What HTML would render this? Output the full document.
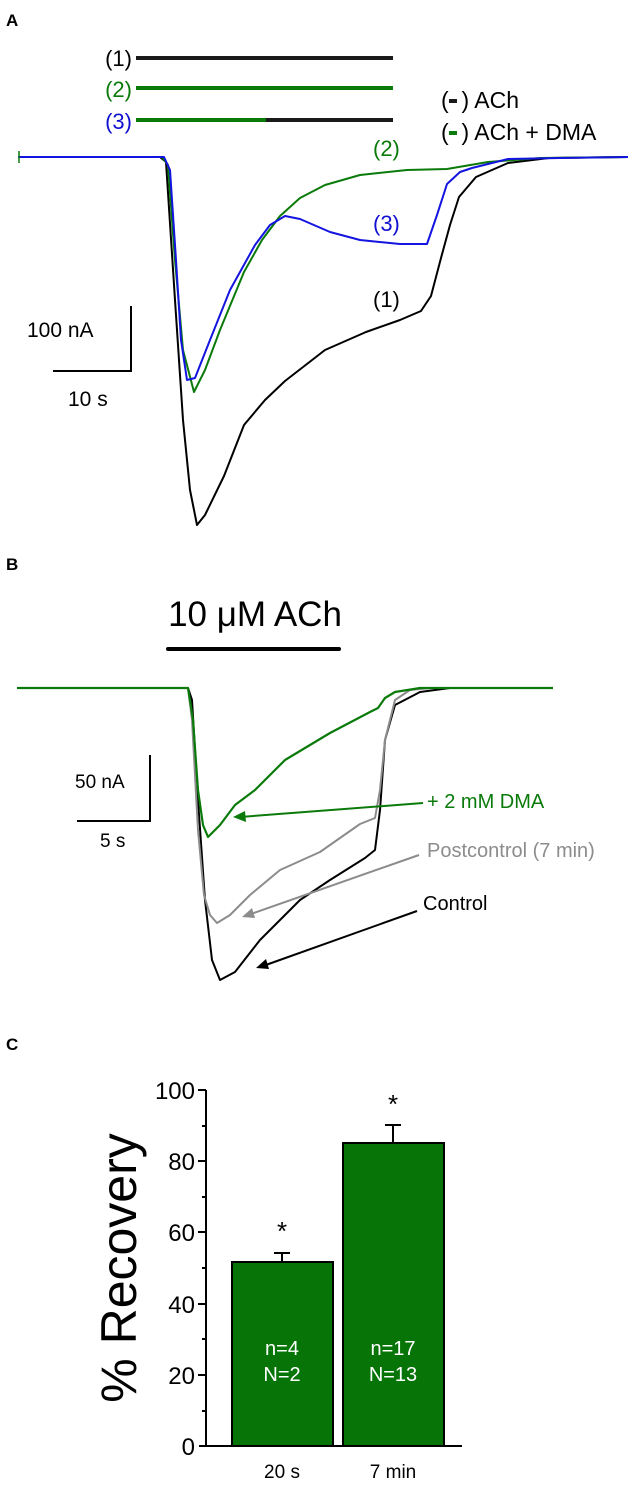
<!DOCTYPE html>
<html><head><meta charset="utf-8"><style>
html,body{margin:0;padding:0;background:#fff}
svg{display:block}
text{font-family:"Liberation Sans",Arial,sans-serif}
path{stroke-linejoin:round}
</style></head><body>
<svg width="634" height="1486" viewBox="0 0 634 1486" xmlns="http://www.w3.org/2000/svg">
<!-- Panel A -->
<text x="6" y="26" font-size="17" font-weight="bold">A</text>
<line x1="136" y1="58" x2="393" y2="58" stroke="#1a1a1a" stroke-width="4"/>
<line x1="136" y1="88" x2="393" y2="88" stroke="#0a7a0a" stroke-width="4"/>
<line x1="136" y1="120" x2="266" y2="120" stroke="#0a7a0a" stroke-width="4"/>
<line x1="266" y1="120" x2="393" y2="120" stroke="#1a1a1a" stroke-width="4"/>
<text x="132" y="66" font-size="22" text-anchor="end" fill="#000">(1)</text>
<text x="132" y="97" font-size="22" text-anchor="end" fill="#0a7a0a">(2)</text>
<text x="132" y="129" font-size="22" text-anchor="end" fill="#1010d0">(3)</text>
<text x="441" y="108" font-size="23">(<tspan fill="#fff">–</tspan>) ACh</text>
<rect x="449" y="99" width="8" height="4" fill="#1a1a1a"/>
<text x="441" y="140" font-size="23">(<tspan fill="#fff">–</tspan>) ACh + DMA</text>
<rect x="449" y="131" width="8" height="4" fill="#0a7a0a"/>

<path d="M18,157 L160,157 L166,162 L175,300 L183,420 L190,490 L197,525 L205,515 L224,476 L244,425 L265,400 L285,381 L325,350 L366,332 L400,320 L421,311 L431,296 L441,258 L450,225 L459,197 L476,177 L508,163 L549,158 L628,157" fill="none" stroke="#000" stroke-width="2"/>
<path d="M18,157 L162,157 L168,165 L175,260 L183,350 L194,392 L205,370 L220,330 L244,272 L262,240 L280,216 L300,198 L325,185 L360,175 L407,170 L447,169 L488,162 L540,158 L628,157" fill="none" stroke="#0a7a0a" stroke-width="2"/>
<path d="M18,157 L164,157 L170,170 L176,260 L181,340 L187,380 L195,378 L210,340 L230,290 L255,245 L270,225 L285,216 L300,219 L330,232 L360,240 L400,244 L427,244 L437,215 L447,184 L460,172 L472,168 L508,159 L560,158 L628,157" fill="none" stroke="#1414e0" stroke-width="2"/>
<line x1="19" y1="151" x2="19" y2="163" stroke="#0a7a0a" stroke-width="1.5"/>
<text x="373" y="156" font-size="22" fill="#0a7a0a">(2)</text>
<text x="373" y="231" font-size="22" fill="#1010d0">(3)</text>
<text x="373" y="307" font-size="22" fill="#000">(1)</text>
<polyline points="131,306 131,371 53,371" fill="none" stroke="#000" stroke-width="2"/>
<text x="27" y="337" font-size="21">100 nA</text>
<text x="68" y="406" font-size="21">10 s</text>

<!-- Panel B -->
<text x="6" y="570" font-size="17" font-weight="bold">B</text>
<text x="255" y="626" font-size="35" text-anchor="middle">10 μM ACh</text>
<line x1="168" y1="649" x2="339" y2="649" stroke="#000" stroke-width="4" stroke-linecap="round"/>
<path d="M17,688 L188,688 L192,700 L198,800 L205,900 L212,960 L220,980 L235,972 L260,940 L300,900 L330,880 L365,858 L375,850 L380,810 L385,740 L395,705 L420,692 L450,688 L553,688" fill="none" stroke="#000" stroke-width="2"/>
<path d="M17,688 L188,688 L192,720 L198,830 L204,895 L210,915 L217,923 L230,915 L250,895 L280,870 L320,852 L360,824 L375,818 L380,790 L385,740 L395,700 L410,690 L430,688 L553,688" fill="none" stroke="#8c8c8c" stroke-width="2"/>
<path d="M17,688 L188,688 L193,720 L198,790 L203,825 L208,837 L220,825 L235,805 L255,790 L285,760 L330,733 L370,712 L378,708 L385,698 L395,692 L420,688 L553,688" fill="none" stroke="#0a7a0a" stroke-width="2.2"/>
<polyline points="150,755 150,821 77,821" fill="none" stroke="#000" stroke-width="2"/>
<text x="75" y="788" font-size="19">50 nA</text>
<text x="100" y="847" font-size="19">5 s</text>
<text x="427" y="808" font-size="20" fill="#0a7a0a">+ 2 mM DMA</text>
<line x1="423" y1="803" x2="240" y2="817" stroke="#0a7a0a" stroke-width="2"/>
<polygon points="233,817 245,811 246,822" fill="#0a7a0a"/>
<text x="427" y="857" font-size="20" fill="#8c8c8c">Postcontrol (7 min)</text>
<line x1="419" y1="855" x2="248" y2="915" stroke="#8c8c8c" stroke-width="2"/>
<polygon points="242,917 252,908 255,918" fill="#8c8c8c"/>
<text x="423" y="910" font-size="20">Control</text>
<line x1="417" y1="911" x2="263" y2="966" stroke="#000" stroke-width="2"/>
<polygon points="256,968 266,959 269,969" fill="#000"/>

<!-- Panel C -->
<text x="6" y="1050" font-size="17" font-weight="bold">C</text>
<line x1="206" y1="1090" x2="206" y2="1446" stroke="#000" stroke-width="2"/>
<line x1="199" y1="1446" x2="462" y2="1446" stroke="#000" stroke-width="2"/>
<g stroke="#000" stroke-width="2">
<line x1="198" y1="1090" x2="206" y2="1090"/><line x1="198" y1="1161" x2="206" y2="1161"/>
<line x1="198" y1="1232" x2="206" y2="1232"/><line x1="198" y1="1304" x2="206" y2="1304"/>
<line x1="198" y1="1375" x2="206" y2="1375"/>
<line x1="202" y1="1126" x2="206" y2="1126"/><line x1="202" y1="1197" x2="206" y2="1197"/>
<line x1="202" y1="1268" x2="206" y2="1268"/><line x1="202" y1="1339" x2="206" y2="1339"/>
<line x1="202" y1="1411" x2="206" y2="1411"/>
</g>
<g font-size="24" text-anchor="end">
<text x="195" y="1099">100</text><text x="195" y="1170">80</text><text x="195" y="1241">60</text>
<text x="195" y="1313">40</text><text x="195" y="1384">20</text><text x="195" y="1455">0</text>
</g>
<text transform="translate(136,1268) rotate(-90)" font-size="50" text-anchor="middle">% Recovery</text>
<rect x="232" y="1262" width="101" height="184" fill="#077407" stroke="#000" stroke-width="2"/>
<rect x="343" y="1143" width="101" height="303" fill="#077407" stroke="#000" stroke-width="2"/>
<g stroke="#000" stroke-width="2">
<line x1="282" y1="1262" x2="282" y2="1253"/><line x1="274" y1="1253" x2="290" y2="1253"/>
<line x1="393" y1="1143" x2="393" y2="1125"/><line x1="385" y1="1125" x2="401" y2="1125"/>
</g>
<text x="282" y="1240" font-size="26" text-anchor="middle">*</text>
<text x="393" y="1113" font-size="26" text-anchor="middle">*</text>
<g font-size="20" fill="#fff" text-anchor="middle">
<text x="282" y="1355">n=4</text><text x="282" y="1381">N=2</text>
<text x="393" y="1355">n=17</text><text x="393" y="1381">N=13</text>
</g>
<text x="282" y="1478" font-size="19" text-anchor="middle">20 s</text>
<text x="393" y="1478" font-size="19" text-anchor="middle">7 min</text>
</svg>
</body></html>
